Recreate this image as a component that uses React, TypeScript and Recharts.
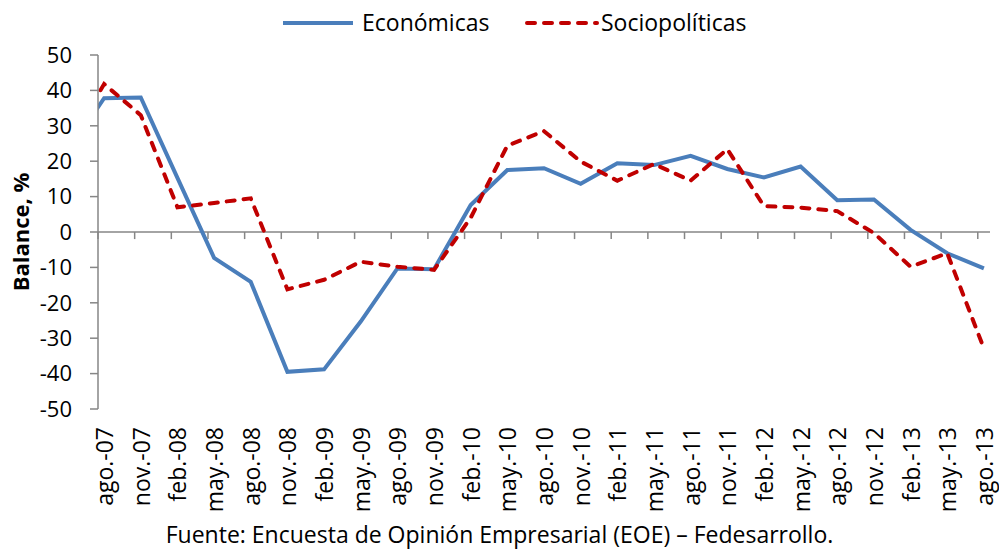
import React from 'react';
import { LineChart, Line, XAxis, YAxis, ReferenceLine, Legend } from 'recharts';

// quarterly labels shown on the axis
const tickLabels = [
  'ago.-07', 'nov.-07', 'feb.-08', 'may.-08', 'ago.-08', 'nov.-08', 'feb.-09',
  'may.-09', 'ago.-09', 'nov.-09', 'feb.-10', 'may.-10', 'ago.-10', 'nov.-10',
  'feb.-11', 'may.-11', 'ago.-11', 'nov.-11', 'feb.-12', 'may.-12', 'ago.-12',
  'nov.-12', 'feb.-13', 'may.-13', 'ago.-13',
];

// months counted from ago.-07; the first point (jul.-07) sits just left of the axis and is clipped
const monthIndex = [
  -1, 0, 3, 6, 9, 12, 15, 18, 21, 24, 27, 30, 33, 36, 39, 42, 45, 48, 51, 54,
  57, 60, 63, 66, 69, 72,
];

const economicas = [
  32.7, 37.8, 38, 15.3, -7.3, -14.1, -39.5, -38.8, -25.3, -10.3, -10.5, 7.6,
  17.5, 18, 13.6, 19.4, 18.9, 21.5, 17.8, 15.4, 18.5, 9.0, 9.2, 0.6, -6, -10.3,
];

const sociopoliticas = [
  35.9, 41.8, 33, 7, 8.2, 9.5, -16.2, -13.5, -8.4, -9.8, -10.7, 4, 24.4, 28.5,
  19.9, 14.5, 19.2, 14.5, 23.4, 7.3, 6.9, 5.9, -0.3, -9.8, -6, -32.9,
];

const yTicks = [50, 40, 30, 20, 10, 0, -10, -20, -30, -40, -50];

const BLUE = '#4A7EBB';
const RED = '#C00000';
const AXIS = '#868686';
const FONT = '"Open Sans", sans-serif';

const chartData = monthIndex.map((m, i) => ({
  m,
  economicas: economicas[i],
  sociopoliticas: sociopoliticas[i],
}));

const labelTicks = monthIndex.slice(1);
// tick marks sit on month boundaries, labels in the middle of the month
const tickMarks = labelTicks.map((m) => m - 0.5);

const XTick = ({ x, y, payload }: any) => {
  const i = labelTicks.indexOf(payload.value);
  return (
    <text
      transform={`translate(${x},${y + 18}) rotate(-90)`}
      textAnchor="end"
      dominantBaseline="central"
      fontSize={23}
      fontFamily={FONT}
      fill="#000"
    >
      {tickLabels[i]}
    </text>
  );
};

const YLabel = ({ viewBox }: any) => {
  const cx = viewBox.x + 20;
  const cy = viewBox.y + viewBox.height / 2;
  return (
    <text
      transform={`translate(${cx},${cy}) rotate(-90)`}
      textAnchor="middle"
      dominantBaseline="central"
      fontSize={22}
      fontWeight="bold"
      fontFamily={FONT}
      fill="#000"
    >
      Balance, %
    </text>
  );
};

const renderLegend = () => (
  <div style={{ position: 'relative', height: 30, fontFamily: FONT, fontSize: 23, color: '#000' }}>
    <svg style={{ position: 'absolute', left: 283, top: 13 }} width={72} height={6}>
      <line x1={0} y1={3} x2={70} y2={3} stroke={BLUE} strokeWidth={4} />
    </svg>
    <span style={{ position: 'absolute', left: 362, top: 0, lineHeight: '30px', whiteSpace: 'nowrap' }}>
      Económicas
    </span>
    <svg style={{ position: 'absolute', left: 525, top: 13 }} width={74} height={6}>
      <line x1={2} y1={3} x2={72} y2={3} stroke={RED} strokeWidth={4} strokeDasharray="8 9" strokeLinecap="round" />
    </svg>
    <span style={{ position: 'absolute', left: 601, top: 0, lineHeight: '30px', whiteSpace: 'nowrap' }}>
      Sociopolíticas
    </span>
  </div>
);

export default function App() {
  return (
    <div style={{ position: 'absolute', left: 0, top: 0, width: 999, height: 549, background: '#fff', overflow: 'hidden' }}>
      <LineChart
        width={999}
        height={549}
        data={chartData}
        margin={{ top: 55, right: 9, bottom: 0, left: 0 }}
      >
        <XAxis
          dataKey="m"
          type="number"
          domain={[-0.5, 72.5]}
          allowDataOverflow
          ticks={labelTicks}
          interval={0}
          height={140}
          axisLine={false}
          tickLine={false}
          tickSize={0}
          tickMargin={0}
          tick={<XTick />}
        />
        <YAxis
          domain={[-50, 50]}
          ticks={yTicks}
          interval={0}
          width={98}
          stroke={AXIS}
          strokeWidth={1.5}
          tickSize={8}
          tickMargin={18}
          tick={{ fill: '#000', fontSize: 22, fontFamily: FONT }}
          label={<YLabel />}
        />
        <ReferenceLine y={0} stroke={AXIS} strokeWidth={1.5} />
        {tickMarks.map((t) => (
          <ReferenceLine
            key={t}
            segment={[{ x: t, y: 0 }, { x: t, y: -2 }]}
            stroke={AXIS}
            strokeWidth={1.5}
          />
        ))}
        <Legend
          verticalAlign="middle"
          align="center"
          layout="horizontal"
          wrapperStyle={{ top: 7, left: 0, width: 999 }}
          content={renderLegend}
        />
        <Line
          type="linear"
          dataKey="economicas"
          name="Económicas"
          stroke={BLUE}
          strokeWidth={4}
          dot={false}
          isAnimationActive={false}
        />
        <Line
          type="linear"
          dataKey="sociopoliticas"
          name="Sociopolíticas"
          stroke={RED}
          strokeWidth={4}
          strokeDasharray="8 9"
          strokeLinecap="round"
          dot={false}
          isAnimationActive={false}
        />
      </LineChart>
      <div
        style={{
          position: 'absolute',
          left: 0,
          top: 521,
          width: 999,
          textAlign: 'center',
          lineHeight: '27px',
          fontSize: 23,
          fontFamily: FONT,
          color: '#000',
          whiteSpace: 'nowrap',
        }}
      >
        Fuente: Encuesta de Opinión Empresarial (EOE) – Fedesarrollo.
      </div>
    </div>
  );
}
